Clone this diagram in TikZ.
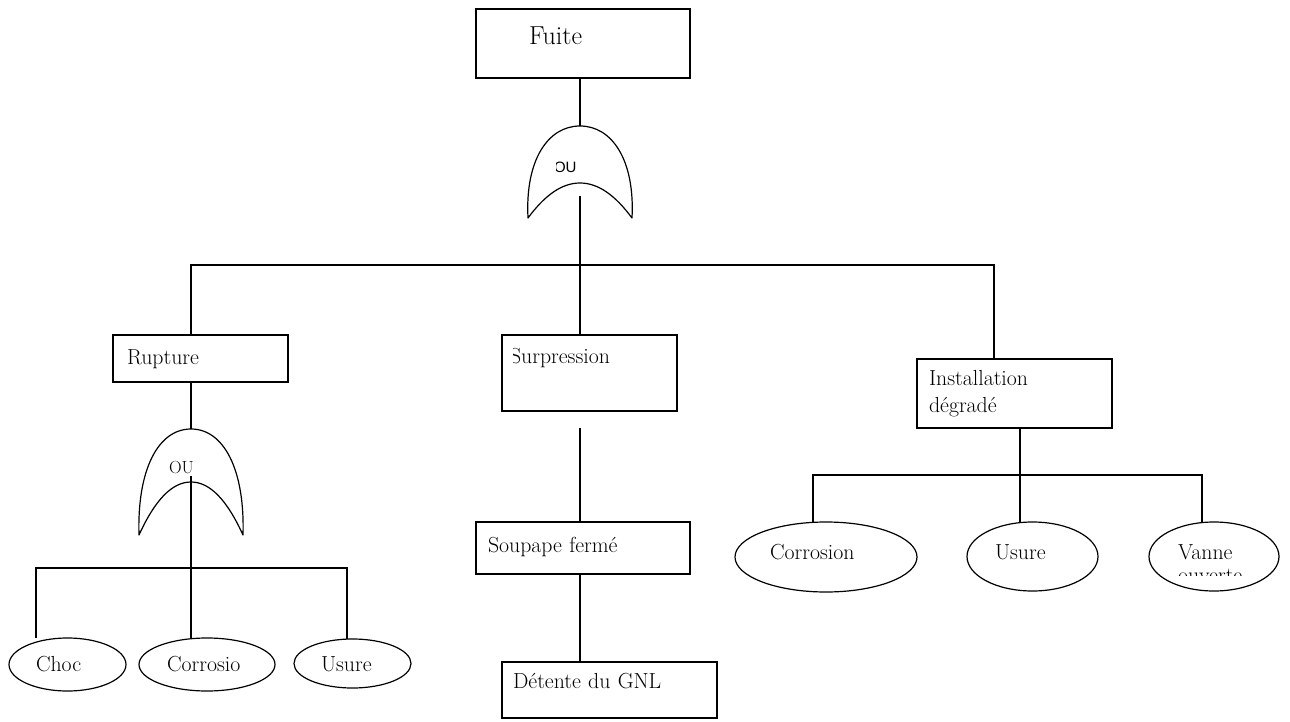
\documentclass[tikz,border=0pt]{standalone}
\usepackage{fontspec}
\newfontfamily\gatesans{Liberation Sans}
\usetikzlibrary{shapes.geometric}
\begin{document}
\hyphenpenalty=10000
\exhyphenpenalty=10000
\begin{tikzpicture}[x=1pt, y=-1pt, line width=1.2pt,
  every node/.style={outer sep=0pt},
  txt/.style={font=\fontsize{21.8}{27}\selectfont},
  evbox/.style={txt, draw, rectangle, anchor=north west, inner ysep=0pt, align=left},
  basic/.style={txt, draw, ellipse, inner sep=0pt, align=left},
  gate/.style={line join=round}]
\useasboundingbox (0,0) rectangle (1290,722);

% ---- events (rectangles) ----
\node[evbox, font=\fontsize{26}{30}\selectfont, inner xsep=53pt, text width=108pt,
      text height=36pt, text depth=33pt] (fuite) at (476,9) {Fuite};
\node[evbox, inner xsep=14pt, text width=147pt, text height=29pt, text depth=18pt]
      (rupture) at (113,335) {Rupture};
\node[evbox, minimum width=175pt, minimum height=76pt] (surp) at (502,335) {};
\node[evbox, inner xsep=12pt, text width=190pt, text height=30pt, text depth=22pt]
      (soupape) at (476,522) {Soupape fermé};
\node[evbox, inner xsep=11pt, text width=193pt, text height=26pt, text depth=30pt]
      (detente) at (502,662) {Détente du GNL};
\node[evbox, inner xsep=12pt, text width=171pt, text height=26pt, text depth=43pt]
      (inst) at (917,359) {Installation\\dégradé};

\begin{scope}
  \clip (513,340) rectangle (670,380);
  \node[txt, anchor=base west, inner sep=0pt] (surptxt) at (510,363) {Surpression};
\end{scope}

% ---- basic events (ellipses) ----
\node[basic, minimum width=117pt, minimum height=53pt, text width=63pt,
      text height=14pt, text depth=1pt] (choc) at (67.5,664.5) {Choc};
\node[basic, minimum width=136pt, minimum height=53pt, text width=80pt,
      text height=14pt, text depth=1pt] (corrL) at (207,664.5) {Corrosio};
\node[basic, minimum width=117pt, minimum height=49pt, text width=63pt,
      text height=15pt, text depth=0pt] (usureL) at (352.5,663.5) {Usure};
\node[basic, minimum width=182pt, minimum height=70pt, text width=112pt,
      text height=14pt, text depth=10pt] (corrR) at (826,557) {Corrosion};
\node[basic, minimum width=131pt, minimum height=69pt, text width=75pt,
      text height=14pt, text depth=9pt] (usureR) at (1032.5,556.5) {Usure};
\node[basic, minimum width=130pt, minimum height=69pt, text width=72pt,
      text height=14pt, text depth=9pt] (vanne) at (1214,556.5) {Vanne};
\begin{scope}
  \clip (1160,560) rectangle (1270,575.5);
  \node[txt, anchor=base west, inner sep=0pt] (ouv) at (1178,582) {ouverte};
\end{scope}

% ---- OR gates ----
\coordinate (g1in) at (580,126);
\coordinate (g1out) at (580,196);
\coordinate (g2in) at (191,429);
\coordinate (g2out) at (191,476);

\draw[gate] (528,218) .. controls (525,160) and (548,126) .. (g1in)
  .. controls (612,126) and (635,160) .. (632,218)
  .. controls (615,195) and (598,183) .. (580,183)
  .. controls (562,183) and (545,195) .. (528,218) -- cycle;
\begin{scope}
  \clip (556,150) rectangle (600,180);
  \node[anchor=base west, inner sep=0pt, font=\gatesans\fontsize{15}{18}\selectfont]
    (ou1) at (554,172.5) {OU};
\end{scope}

\draw[gate] (139,535) .. controls (137,470) and (158,429) .. (g2in)
  .. controls (224,429) and (245,470) .. (243,535)
  .. controls (227,500) and (210,482) .. (191,482)
  .. controls (172,482) and (155,500) .. (139,535) -- cycle;
\node[anchor=base west, inner sep=0pt, font=\fontsize{17.5}{20}\selectfont]
  (ou2) at (169,473) {OU};

% ---- junction points ----
\coordinate (bar1) at (580,265);
\coordinate (bar1r) at (994,265);
\coordinate (gapS) at (580,428);
\coordinate (bar2l) at (36,568);
\coordinate (bar2r) at (347,568);
\coordinate (bar3c) at (1020,475);
\coordinate (bar3l) at (813,475);
\coordinate (bar3r) at (1202,475);

% ---- connectors ----
\draw (fuite.south -| g1in) -- (g1in);
\draw (g1out) -- (bar1);
\draw (rupture.north -| g2in) |- (bar1r) -- (bar1r |- inst.north);
\draw (bar1) -- (bar1 |- surp.north);
\draw (rupture.south -| g2in) -- (g2in);
\draw (g2out) -- (g2out |- corrL.north);
\draw (bar2l |- choc.north) -- (bar2l) -- (bar2r) -- (bar2r |- usureL.north);
\draw (gapS) -- (gapS |- soupape.north);
\draw (soupape.south -| gapS) -- (gapS |- detente.north);
\draw (inst.south -| bar3c) -- (bar3c) -- (bar3c |- usureR.north);
\draw (bar3l |- corrR.north) -- (bar3l) -- (bar3r) -- (bar3r |- vanne.north);
\end{tikzpicture}
\end{document}
